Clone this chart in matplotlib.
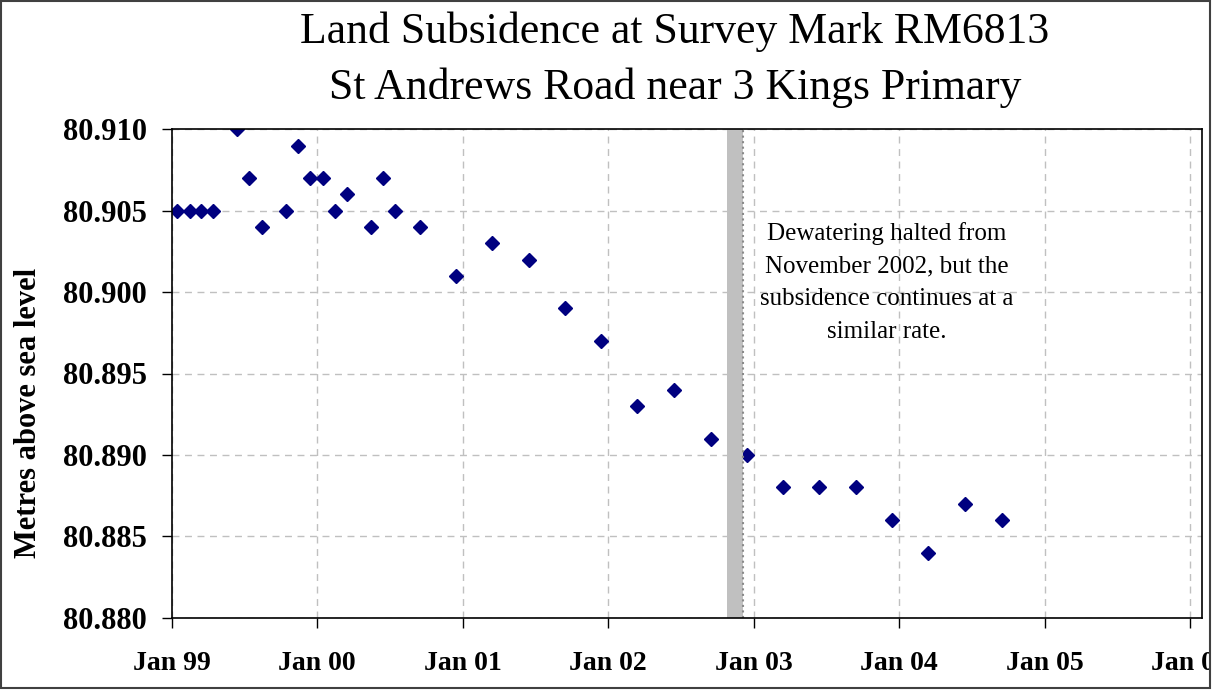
import pandas as pd
import matplotlib
matplotlib.use("Agg")
import matplotlib.pyplot as plt
import matplotlib.dates as mdates
from matplotlib.patches import Rectangle

# Survey dates and levels (m above sea level)
dates = [
    "1999-01-15", "1999-02-15", "1999-03-15", "1999-04-15", "1999-06-15",
    "1999-07-15", "1999-08-15", "1999-10-15", "1999-11-15", "1999-12-15",
    "2000-01-15", "2000-02-15", "2000-03-15", "2000-05-15", "2000-06-15",
    "2000-07-15", "2000-09-15", "2000-12-15", "2001-03-15", "2001-06-15",
    "2001-09-15", "2001-12-15", "2002-03-15", "2002-06-15", "2002-09-15",
    "2002-12-15", "2003-03-15", "2003-06-15", "2003-09-15", "2003-12-15",
    "2004-03-15", "2004-06-15", "2004-09-15",
]
levels = [
    80.905, 80.905, 80.905, 80.905, 80.910,
    80.907, 80.904, 80.905, 80.909, 80.907,
    80.907, 80.905, 80.906, 80.904, 80.907,
    80.905, 80.904, 80.901, 80.903, 80.902,
    80.899, 80.897, 80.893, 80.894, 80.891,
    80.890, 80.888, 80.888, 80.888, 80.886,
    80.884, 80.887, 80.886,
]
halt_start = "2002-10-25"
halt_end = "2002-12-05"
note = "Dewatering halted from\nNovember 2002, but the\nsubsidence continues at a\nsimilar rate."

serif = ["Liberation Serif", "DejaVu Serif"]
W, H = 1223, 690

fig = plt.figure(figsize=(W / 100, H / 100), dpi=100)
ax = fig.add_axes([171.7 / W, 1 - 617.7 / H, 1030 / W, 488.4 / H])

x = pd.to_datetime(dates)
ax.plot(x, levels, linestyle="none", marker="D", markersize=7,
        color="#000080", zorder=2)

# dewatering halted band
ax.axvspan(pd.Timestamp(halt_start), pd.Timestamp(halt_end),
           facecolor="#c0c0c0", edgecolor="none", zorder=3)
ax.axvline(pd.Timestamp(halt_end), color="#8a8a8a", lw=1.5, ls=":", zorder=3)

ax.text(pd.Timestamp("2003-12-01"), 80.9006, note, ha="center", va="center",
        fontsize=18, family=serif, linespacing=1.62)

ax.set_xlim(pd.Timestamp("1999-01-01"), pd.Timestamp("2006-01-30"))
ax.set_ylim(80.880, 80.910)
ax.set_yticks([80.880, 80.885, 80.890, 80.895, 80.900, 80.905, 80.910])
ax.yaxis.set_major_formatter(plt.FormatStrFormatter("%.3f"))
ax.xaxis.set_major_locator(mdates.YearLocator())
ax.xaxis.set_major_formatter(mdates.DateFormatter("Jan %y"))

ax.grid(True, color="#c0c0c0", linestyle=(0, (5, 4)), linewidth=1)
ax.set_axisbelow(True)
for s in ax.spines.values():
    s.set_color("black")
    s.set_linewidth(1.2)
    s.set_zorder(4)

ax.tick_params(axis="both", direction="out", length=7, width=1, colors="black")
ax.tick_params(axis="y", pad=11)
ax.tick_params(axis="x", pad=17)
for lab in ax.get_yticklabels():
    lab.set_fontfamily(serif)
    lab.set_fontweight("bold")
    lab.set_fontsize(22)
for lab in ax.get_xticklabels():
    lab.set_fontfamily(serif)
    lab.set_fontweight("bold")
    lab.set_fontsize(20)

ax.set_ylabel("Metres above sea level", fontsize=22, fontweight="bold",
              family=serif)
ax.yaxis.set_label_coords(-0.125, 0.42)

fig.text(675 / W, 1 - 43 / H, "Land Subsidence at Survey Mark RM6813",
         ha="center", va="baseline", fontsize=31.5, family=serif)
fig.text(675 / W, 1 - 99 / H, "St Andrews Road near 3 Kings Primary",
         ha="center", va="baseline", fontsize=31.5, family=serif)

# chart frame, clipping the last tick label like the original
fig.add_artist(Rectangle((1211 / W, 0), 1, 1, transform=fig.transFigure,
                         facecolor="white", edgecolor="none", zorder=5))
fig.add_artist(Rectangle((1 / W, 2 / H), 1209 / W, 687 / H, transform=fig.transFigure,
                         fill=False, edgecolor="#404040", lw=1.5, zorder=6))

fig.savefig("out.png", dpi=100)
